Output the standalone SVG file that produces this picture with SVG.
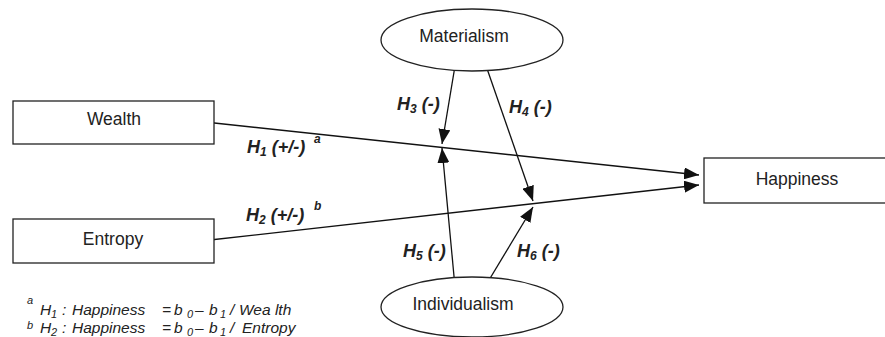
<svg xmlns="http://www.w3.org/2000/svg" width="885" height="337" viewBox="0 0 885 337">
<style>
.box{fill:#fff;stroke:#222;stroke-width:1.3}
.lbl{font-family:"Liberation Sans",Arial,sans-serif;font-size:17.5px;fill:#222;text-anchor:middle}
.h{font-family:"Liberation Sans",Arial,sans-serif;font-size:18px;font-weight:bold;font-style:italic;fill:#222}
.sub{font-size:12px}
.fn{font-family:"Liberation Sans",Arial,sans-serif;font-size:15.5px;font-style:italic;fill:#222}
.fs{font-size:11px}
.edge{stroke:#111;stroke-width:1.3;fill:none;marker-end:url(#ah)}
</style>
<defs>
<marker id="ah" markerUnits="userSpaceOnUse" markerWidth="16" markerHeight="12" refX="15" refY="6" orient="auto">
<path d="M0,0 L15,6 L0,12 Z" fill="#111"/>
</marker>
</defs>
<rect width="885" height="337" fill="#fff"/>
<g id="connectors">
<line class="edge" x1="205" y1="122" x2="699" y2="175"/>
<line class="edge" x1="210" y1="240" x2="699" y2="185"/>
<line class="edge" x1="456" y1="60" x2="442" y2="144"/>
<line class="edge" x1="455" y1="287" x2="442" y2="148"/>
<line class="edge" x1="484" y1="60" x2="533" y2="201"/>
<line class="edge" x1="480" y1="295" x2="533" y2="207"/>
</g>
<g id="wealth"><rect class="box" x="13" y="101" width="201" height="43"/><text class="lbl" x="114" y="125">Wealth</text></g>
<g id="entropy"><rect class="box" x="13" y="219" width="201" height="44"/><text class="lbl" x="113" y="245">Entropy</text></g>
<g id="happiness"><rect class="box" x="704" y="158" width="184" height="45"/><text class="lbl" x="797" y="185">Happiness</text></g>
<g id="materialism"><ellipse class="box" cx="472" cy="40" rx="91" ry="31"/><text class="lbl" x="464" y="42">Materialism</text></g>
<g id="individualism"><ellipse class="box" cx="472" cy="307" rx="91" ry="30"/><text class="lbl" x="463" y="310">Individualism</text></g>
<g id="labels">
<text class="h" x="397" y="110">H<tspan class="sub" dy="3">3</tspan><tspan dy="-3"> (-)</tspan></text>
<text class="h" x="509" y="113">H<tspan class="sub" dy="3">4</tspan><tspan dy="-3"> (-)</tspan></text>
<text class="h" x="247" y="153">H<tspan class="sub" dy="3">1</tspan><tspan dy="-3"> (+/-)</tspan></text>
<text class="h" x="314" y="143" style="font-size:12px">a</text>
<text class="h" x="246" y="221">H<tspan class="sub" dy="3">2</tspan><tspan dy="-3"> (+/-)</tspan></text>
<text class="h" x="314" y="210" style="font-size:12px">b</text>
<text class="h" x="403" y="257">H<tspan class="sub" dy="3">5</tspan><tspan dy="-3"> (-)</tspan></text>
<text class="h" x="517" y="257">H<tspan class="sub" dy="3">6</tspan><tspan dy="-3"> (-)</tspan></text>
</g>
<g id="footnote">
<text class="fn fs" x="27" y="304">a</text>
<text class="fn" y="315"><tspan x="40">H</tspan><tspan class="fs" x="51" y="318">1</tspan><tspan x="62" y="315">:</tspan><tspan x="72">Happiness</tspan><tspan x="162">=</tspan><tspan x="174">b</tspan><tspan class="fs" x="187" y="318">0</tspan><tspan x="195" y="315">–</tspan><tspan x="209">b</tspan><tspan class="fs" x="220" y="318">1</tspan><tspan x="230" y="315">/</tspan><tspan x="239">Wea lth</tspan></text>
<text class="fn fs" x="27" y="329">b</text>
<text class="fn" y="333"><tspan x="40">H</tspan><tspan class="fs" x="51" y="336">2</tspan><tspan x="62" y="333">:</tspan><tspan x="72">Happiness</tspan><tspan x="162">=</tspan><tspan x="174">b</tspan><tspan class="fs" x="187" y="336">0</tspan><tspan x="195" y="333">–</tspan><tspan x="209">b</tspan><tspan class="fs" x="220" y="336">1</tspan><tspan x="230" y="333">/</tspan><tspan x="242">Entropy</tspan></text>
</g>
</svg>
